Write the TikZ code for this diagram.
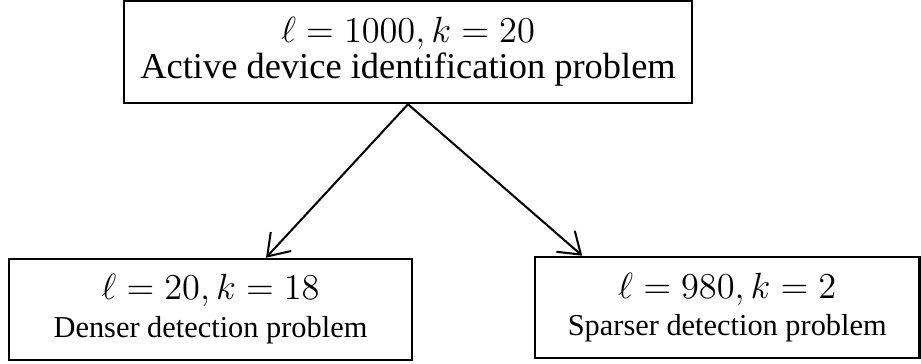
\documentclass[tikz,border=0pt]{standalone}
\usepackage{fontspec}
\setmainfont{Liberation Serif}
\usetikzlibrary{arrows.meta,calc}
\begin{document}
\begin{tikzpicture}[x=0.395pt,y=-0.395pt,
  box/.style={draw,line width=1pt,rectangle,align=center,inner sep=0pt},
  arr/.style={line width=0.8pt,-{Straight Barb[length=8pt,width=11pt]}}]
\useasboundingbox (0,0) rectangle (921,364);
\node[box,minimum width=224.4pt,minimum height=40.3pt,
      font=\fontsize{14.4}{14.2}\selectfont] (top) at (408,52)
  {$\ell = 1000, k = 20$\\Active device identification problem};
\node[box,minimum width=159.2pt,minimum height=39.9pt,
      font=\fontsize{12}{15}\selectfont] (left) at (210.5,309.5)
  {{\fontsize{14.4}{15}\selectfont$\ell = 20, k = 18$}\\Denser detection problem};
\node[box,minimum width=151.9pt,minimum height=39.9pt,
      font=\fontsize{12}{14.5}\selectfont] (right) at (727.25,307.5)
  {{\fontsize{14.4}{14.5}\selectfont$\ell = 980, k = 2$}\\Sparser detection problem};
\coordinate (lend) at ($(left.north)+(55.5,0)$);
\coordinate (rend) at ($(right.north)+(-145,0)$);
\draw[arr] (top.south) -- (lend);
\draw[arr] (top.south) -- (rend);
\end{tikzpicture}
\end{document}
